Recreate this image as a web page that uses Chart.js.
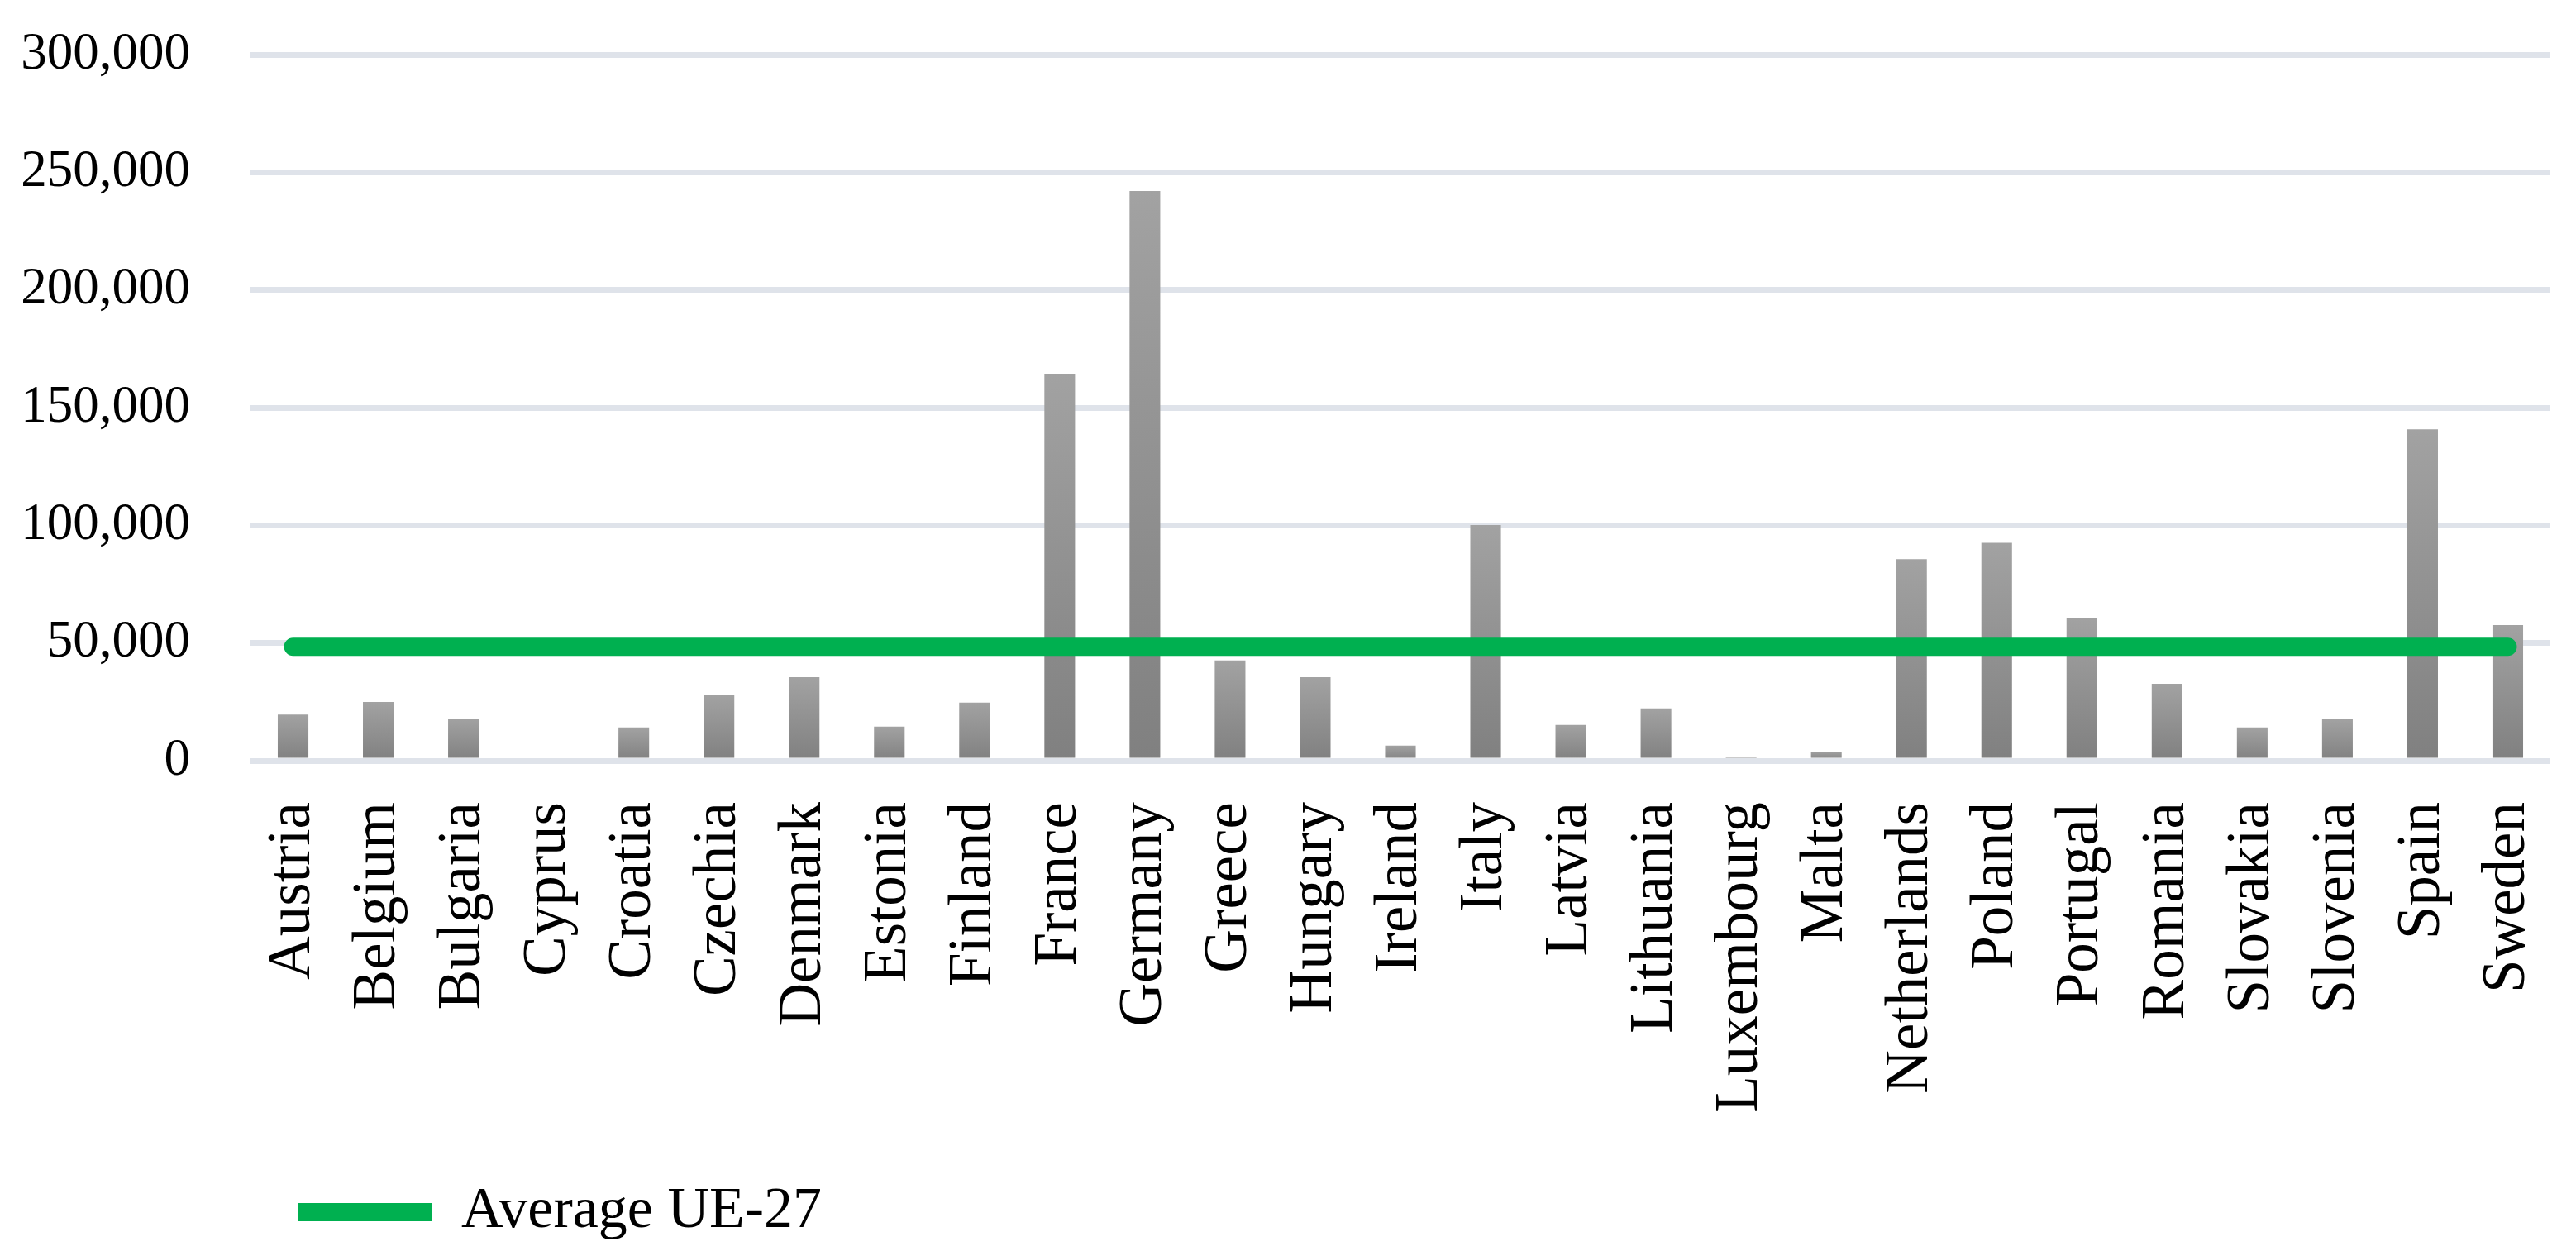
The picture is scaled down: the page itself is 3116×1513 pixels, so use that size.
<!DOCTYPE html>
<html>
<head>
<meta charset="utf-8">
<script src="https://cdn.jsdelivr.net/npm/chart.js@4/dist/chart.umd.min.js"></script>
<style>
  html, body { margin: 0; padding: 0; background: #fff; }
  canvas { display: block; }
</style>
</head>
<body>
<canvas id="chart" width="3116" height="1513"></canvas>
<script>
const countries = ['Austria', 'Belgium', 'Bulgaria', 'Cyprus', 'Croatia', 'Czechia', 'Denmark', 'Estonia', 'Finland',
  'France', 'Germany', 'Greece', 'Hungary', 'Ireland', 'Italy', 'Latvia', 'Lithuania', 'Luxembourg', 'Malta',
  'Netherlands', 'Poland', 'Portugal', 'Romania', 'Slovakia', 'Slovenia', 'Spain', 'Sweden'];

const values = [19600, 24900, 17900, 0, 14100, 27800, 35500, 14500, 24700,
  164400, 242000, 42600, 35500, 6400, 100100, 15200, 22200, 1800, 3900,
  85600, 92600, 60800, 32700, 14100, 17600, 140800, 57600];

const averageUE27 = 48400;
const averageLine = countries.map(() => averageUE27);

const yTicks = [0, 50000, 100000, 150000, 200000, 250000, 300000];

const FONT = "'Liberation Serif', 'Times New Roman', serif";

// grey gradient per bar, lighter at the top
const barFill = (ctx) => {
  const chart = ctx.chart;
  if (!chart.chartArea || ctx.type !== 'data') return '#909090';
  const y = chart.scales.y;
  const top = y.getPixelForValue(ctx.raw);
  const bottom = y.getPixelForValue(0);
  if (bottom - top < 1) return '#909090';
  const g = chart.ctx.createLinearGradient(0, top, 0, bottom);
  g.addColorStop(0, '#a2a2a2');
  g.addColorStop(1, '#808080');
  return g;
};

const legendPad = 58;

new Chart(document.getElementById('chart'), {
  data: {
    labels: countries,
    datasets: [
      {
        type: 'line',
        label: 'Average UE-27',
        data: averageLine,
        borderColor: '#00b050',
        backgroundColor: '#00b050',
        borderWidth: 22,
        borderCapStyle: 'round',
        pointRadius: 0,
        pointHoverRadius: 0,
        fill: false,
        order: 0
      },
      {
        type: 'bar',
        label: 'values',
        data: values,
        backgroundColor: barFill,
        borderWidth: 0,
        categoryPercentage: 1,
        barPercentage: 0.36,
        order: 1
      }
    ]
  },
  options: {
    responsive: false,
    animation: false,
    layout: { padding: { top: 66, right: 31, left: 0, bottom: 2 } },
    plugins: {
      tooltip: { enabled: false },
      legend: {
        position: 'bottom',
        align: 'start',
        fullSize: false,
        labels: {
          filter: (item) => item.text === 'Average UE-27',
          usePointStyle: true,
          pointStyle: 'line',
          pointStyleWidth: 162,
          padding: legendPad,
          color: '#000',
          font: { family: FONT, size: 70 }
        }
      }
    },
    scales: {
      x: {
        grid: { display: false, drawTicks: false },
        border: { display: false },
        ticks: {
          color: '#000',
          font: { family: FONT, size: 73 },
          minRotation: 90,
          maxRotation: 90,
          autoSkip: false,
          padding: 50
        },
        afterFit: (scale) => {
          scale.height = 511 - legendPad;
          scale.paddingLeft = 0;
          scale.paddingRight = 0;
        }
      },
      y: {
        min: 0,
        max: 300000,
        grid: { color: '#dfe3ea', lineWidth: 7, drawTicks: false },
        border: { display: false },
        afterBuildTicks: (scale) => { scale.ticks = yTicks.map(v => ({ value: v })); },
        ticks: {
          color: '#000',
          font: { family: FONT, size: 63 },
          padding: 73,
          callback: (v) => v.toLocaleString('en-US')
        },
        afterFit: (scale) => {
          scale.width = 303;
          scale.paddingTop = 0;
          scale.paddingBottom = 0;
        }
      }
    }
  }
});
</script>
</body>
</html>
